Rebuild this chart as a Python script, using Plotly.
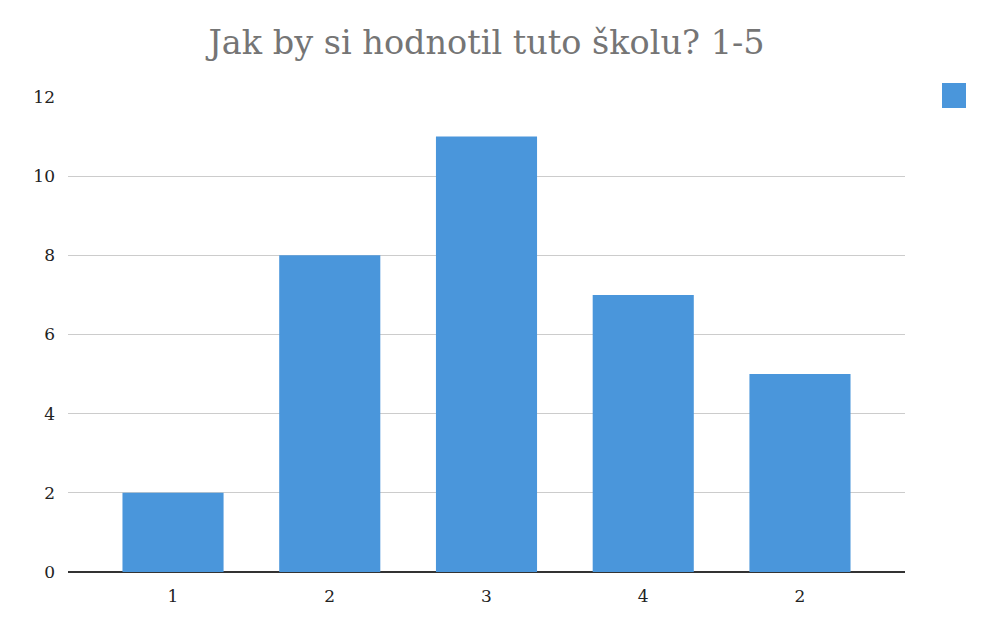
import plotly.graph_objects as go

categories = ["1", "2", "3", "4", "2"]
values = [2, 8, 11, 7, 5]
positions = list(range(len(categories)))
y_ticks = [0, 2, 4, 6, 8, 10, 12]

bar_color = "#4a96db"
serif = "DejaVu Serif"

fig = go.Figure()
fig.add_trace(go.Bar(
    x=positions, y=values, width=0.645,
    marker=dict(color=bar_color, line=dict(width=0)),
    showlegend=False, hoverinfo="y",
))

# page body has an 8px offset; plot area target in window: x 68..905, y 97..572
fig.update_layout(
    width=1000, height=623,
    margin=dict(l=60, r=103, t=89, b=59),
    paper_bgcolor="white", plot_bgcolor="white",
    font=dict(family=serif, color="#222"),
    title=dict(text="Jak by si hodnotil tuto školu? 1-5", x=0.5, xref="paper", xanchor="center",
               y=(623 - 34) / 623, yanchor="middle",
               font=dict(size=33.5, color="#757575", family=serif)),
    xaxis=dict(tickvals=positions, ticktext=categories, range=[-0.67, 4.67],
               showgrid=False, zeroline=False, showline=False,
               ticks="", tickfont=dict(size=17, color="#222", family=serif), ticklabelstandoff=12),
    yaxis=dict(range=[0, 12], tickvals=y_ticks, showgrid=True, gridcolor="#cccccc",
               gridwidth=1, zeroline=True, zerolinecolor="#333333", zerolinewidth=2,
               ticks="", tickfont=dict(size=17, color="#222", family=serif), ticklabelstandoff=12),
    shapes=[dict(type="rect", xref="paper", yref="paper",
                 x0=1.0 + (942 - 905) / 837, x1=1.0 + (966 - 905) / 837,
                 y0=(572 - 108) / 475, y1=(572 - 83) / 475,
                 fillcolor=bar_color, line=dict(width=0))],
)

fig.write_html("out.html")
